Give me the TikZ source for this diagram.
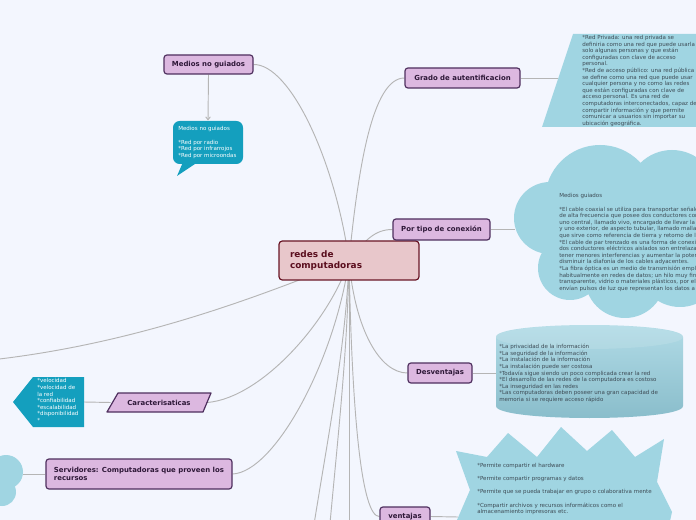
\documentclass[tikz,border=0pt]{standalone}
\usepackage{fontspec}
\setmainfont{DejaVu Sans}
\usetikzlibrary{arrows.meta}
\pgfdeclarelayer{back}
\pgfdeclarelayer{lines}
\pgfsetlayers{back,lines,main}
\definecolor{bgc}{HTML}{F3F6FE}
\definecolor{lav}{HTML}{DCB8E0}
\definecolor{lavdraw}{HTML}{4E2F5E}
\definecolor{lavtext}{HTML}{2E1838}
\definecolor{rootfill}{HTML}{E8C7CB}
\definecolor{rootdraw}{HTML}{6A1626}
\definecolor{roottext}{HTML}{5A0E1E}
\definecolor{tealc}{HTML}{149FBE}
\definecolor{lblue}{HTML}{A0D5E2}
\definecolor{cyltop}{HTML}{B2DCE7}
\definecolor{cylbot}{HTML}{88BCCA}
\definecolor{conn}{HTML}{B5B5B5}
\definecolor{smalltext}{HTML}{3E4C56}
\begin{document}
\begin{tikzpicture}[x=0.75pt,y=-0.75pt,
  topic/.style={draw=lavdraw,fill=lav,line width=0.9pt,rounded corners=2.2pt,
    font=\fontsize{5.2}{6.6}\selectfont\bfseries,text=lavtext,inner sep=0pt},
  link/.style={draw=conn,line width=0.7pt},
  tinytext/.style={font=\fontsize{4.15}{4.95}\selectfont,align=left,inner sep=0pt,anchor=north west,text=smalltext},
  whitetext/.style={tinytext,text=white}
]
\useasboundingbox (0,0) rectangle (696,520);
\begin{pgfonlayer}{back}
\fill[bgc] (0,0) rectangle (696,520);
\end{pgfonlayer}
\clip (0,0) rectangle (696,520);

% ---------- detail shapes ----------
% cloud
\fill[lblue] (600,200) circle (55) (672,195) circle (45) (550,218) circle (36)
  (570,268) circle (32) (625,278) circle (40) (680,265) circle (42);
\fill[lblue] (560,200) rectangle (700,285);
% trapezoid
\fill[lblue] (573,34) -- (700,34) -- (700,127) -- (542,127) -- cycle;
% cylinder
\shade[top color=cyltop,bottom color=cylbot] (496,337) -- (496,406)
  .. controls (496,422) and (683,422) .. (683,406) -- (683,337)
  .. controls (683,321) and (496,321) .. cycle;
\fill[white,opacity=0.12] (589.5,337) ellipse [x radius=93.5,y radius=12];
% star
\fill[lblue] (456,451) -- (487,457) -- (508,433) -- (537,457) -- (561,427) -- (587,451)
  -- (612,430) -- (635,457) -- (664,439) -- (657,482) -- (672,512) -- (668,530)
  -- (455,530) -- (457,520) -- (470,490) -- cycle;
% left cloud
\fill[lblue] (6,472) circle (17) (2,492) circle (14);
% teal pentagon
\fill[tealc] (33,377) -- (84,377) -- (84,427) -- (33,427) -- (13,402) -- cycle;
% callout
\fill[tealc,rounded corners=5pt] (173,121) rectangle (243,164);
\fill[tealc] (183,162) -- (177,176) -- (198,162) -- cycle;
% parallelogram
\filldraw[fill=lav,draw=lavdraw,line width=0.9pt,line join=round]
  (118,393) -- (211,393) -- (203,412) -- (107,412) -- cycle;

% ---------- connector end points ----------
\coordinate (grin) at (558,78);
\coordinate (cloudin) at (515,229.5);
\coordinate (cylin) at (496,373);
\coordinate (starin) at (458,517);
\coordinate (pentin) at (84,402);
\coordinate (lcloudin) at (23,474);
\coordinate (callin) at (208,120.5);
\coordinate (leftend) at (-40,363);
\coordinate (b1) at (300,620);
\coordinate (b2) at (322,620);
\coordinate (b3) at (349,620);

% ---------- texts in shapes ----------
\node[whitetext] (calltext) at (178,126.5) {Medios no guiados\\[4.95pt]*Red por radio\\*Red por infrarrojos\\*Red por microondas};
\node[tinytext] (grtext) at (582,35) {*Red Privada: una red privada se\\
definiria como una red que puede usarla\\
solo algunas personas y que están\\
configuradas con clave de acceso\\
personal.\\
*Red de acceso público: una red pública\\
se define como una red que puede usar\\
cualquier persona y no como las redes\\
que están configuradas con clave de\\
acceso personal. Es una red de\\
computadoras interconectados, capaz de\\
compartir información y que permite\\
comunicar a usuarios sin importar su\\
ubicación geográfica.};
\node[tinytext] (cloudtext) at (559,193.5) {Medios guiados\\[4.95pt]
*El cable coaxial se utiliza para transportar señales eléctricas\\
de alta frecuencia que posee dos conductores concéntricos,\\
uno central, llamado vivo, encargado de llevar la información,\\
y uno exterior, de aspecto tubular, llamado malla o blindaje,\\
que sirve como referencia de tierra y retorno de las corrientes.\\
*El cable de par trenzado es una forma de conexión en la que\\
dos conductores eléctricos aislados son entrelazados para\\
tener menores interferencias y aumentar la potencia y\\
disminuir la diafonía de los cables adyacentes.\\
*La fibra óptica es un medio de transmisión empleado\\
habitualmente en redes de datos; un hilo muy fino de material\\
transparente, vidrio o materiales plásticos, por el que se\\
envían pulsos de luz que representan los datos a transmitir.};
\node[tinytext] (cyltext) at (499,344) {*La privacidad de la información\\
*La seguridad de la información\\
*La instalación de la información\\
*La instalación puede ser costosa\\
*Todavía sigue siendo un poco complicada crear la red\\
*El desarrollo de las redes de la computadora es costoso\\
*La inseguridad en las redes\\
*Las computadoras deben poseer una gran capacidad de\\
memoria si se requiere acceso rápido};
\node[whitetext] (penttext) at (37,378.5) {*velocidad\\*velocidad de\\la red\\*confiabilidad\\*escalabilidad\\*disponibilidad\\*};
\node[tinytext] (startext) at (477,463) {*Permite compartir el hardware\\[4.95pt]
*Permite compartir programas y datos\\[4.95pt]
*Permite que se pueda trabajar en grupo o colaborativa mente\\[4.95pt]
*Compartir archivos y recursos informáticos como el\\
almacenamiento impresoras etc.};

% ---------- main nodes ----------
\node[draw=rootdraw,fill=rootfill,line width=0.9pt,rounded corners=2.5pt,
  minimum width=105pt,minimum height=29.25pt,text width=88.5pt,align=left,
  inner xsep=8.25pt,inner ysep=0pt,text=roottext,
  font=\fontsize{6.7}{7.8}\selectfont\bfseries] (root) at (349,260.5) {redes de\\computadoras};
\node[topic,minimum width=66.75pt,minimum height=14.25pt] (medios) at (208.5,64.5) {Medios no guiados};
\node[topic,minimum width=86.25pt,minimum height=15pt] (grado) at (462.5,78) {Grado de autentificacion};
\node[topic,minimum width=72.75pt,minimum height=15.75pt] (portipo) at (441.5,229.5) {Por tipo de conexión};
\node[topic,minimum width=48pt,minimum height=15pt] (desv) at (440,373) {Desventajas};
\node[topic,minimum width=139.5pt,minimum height=22.5pt,align=left] (serv) at (139,474) {Servidores: Computadoras que proveen los\\recursos};
\node[topic,minimum width=37.5pt,minimum height=14.25pt] (vent) at (405,516.5) {ventajas};
\node[font=\fontsize{5.2}{6.6}\selectfont\bfseries,text=lavtext,inner sep=0pt,
  minimum width=72pt,minimum height=14pt] (carac) at (159,402.5) {Caracterisaticas};

% ---------- connectors ----------
\begin{pgfonlayer}{lines}
\clip (0,0) rectangle (696,520);
\draw[link] (root.center) .. controls (335,160) and (290,64) .. (medios.east);
\draw[link] (root.center) .. controls (358,170) and (372,78) .. (grado.west);
\draw[link] (root.center) .. controls (365,240) and (375,229.5) .. (portipo.west);
\draw[link] (root.center) .. controls (355,330) and (380,373) .. (desv.west);
\draw[link] (root.center) .. controls (250,300) and (120,350) .. (leftend);
\draw[link] (root.center) .. controls (330,320) and (262,398) .. (carac.east);
\draw[link] (root.center) .. controls (335,360) and (275,472) .. (serv.east);
\draw[link] (root.center) .. controls (345,370) and (318,480) .. (b1);
\draw[link] (root.center) .. controls (347,380) and (332,480) .. (b2);
\draw[link] (root.center) -- (b3);
\draw[link] (root.center) .. controls (352,420) and (362,517) .. (vent.west);
\draw[link] (grado.east) -- (grin);
\draw[link] (portipo.east) -- (cloudin);
\draw[link] (desv.east) -- (cylin);
\draw[link] (vent.east) -- (starin);
\draw[link] (carac.west) -- (pentin);
\draw[link] (serv.west) -- (lcloudin);
\draw[link,-{Straight Barb[length=2.2pt,width=3.5pt]}] (medios.south) -- (callin);
\end{pgfonlayer}
\end{tikzpicture}
\end{document}
